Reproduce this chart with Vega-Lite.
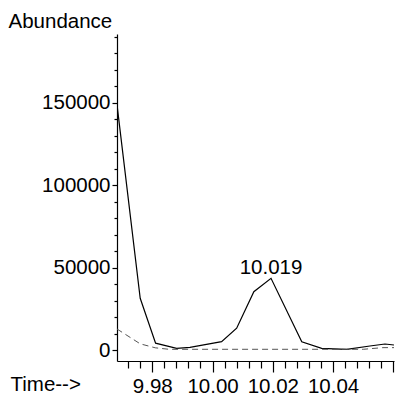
{
  "$schema": "https://vega.github.io/schema/vega-lite/v6.json",
  "autosize": "none",
  "width": 277,
  "height": 327,
  "padding": {"left": 117, "top": 34, "right": 11, "bottom": 36},
  "background": "white",
  "config": {
    "view": {"stroke": null},
    "font": "Liberation Sans",
    "axis": {"grid": false, "domainColor": "black", "tickColor": "black", "labelColor": "black", "titleColor": "black", "labelFont": "Liberation Sans", "titleFont": "Liberation Sans", "labelFontSize": 20.5, "titleFontSize": 20.5, "titleFontWeight": "normal", "domainWidth": 1.2, "tickWidth": 1.2}
  },
  "datasets": {
    "solid": [
      {"time": 9.9683, "abundance": 149000},
      {"time": 9.976, "abundance": 31600},
      {"time": 9.9811, "abundance": 4400},
      {"time": 9.9881, "abundance": 1300},
      {"time": 9.9925, "abundance": 1900},
      {"time": 10.003, "abundance": 5300},
      {"time": 10.008, "abundance": 13500},
      {"time": 10.0137, "abundance": 35600},
      {"time": 10.0194, "abundance": 43700},
      {"time": 10.0296, "abundance": 5300},
      {"time": 10.0362, "abundance": 1300},
      {"time": 10.0445, "abundance": 700},
      {"time": 10.0522, "abundance": 2700},
      {"time": 10.0572, "abundance": 3900},
      {"time": 10.0602, "abundance": 3300}
    ],
    "dashed": [
      {"time": 9.9683, "abundance": 13000},
      {"time": 9.976, "abundance": 4000},
      {"time": 9.981, "abundance": 1600},
      {"time": 9.9855, "abundance": 700},
      {"time": 10.05, "abundance": 700},
      {"time": 10.0565, "abundance": 1700},
      {"time": 10.0602, "abundance": 1700}
    ],
    "peak": [
      {"time": 10.0194, "abundance": 43700, "label": "10.019"}
    ]
  },
  "resolve": {"axis": {"x": "independent", "y": "independent"}, "scale": {"x": "shared", "y": "shared"}},
  "layer": [
    {
      "data": {"name": "solid"},
      "mark": {"type": "line", "color": "black", "strokeWidth": 1.2, "clip": true},
      "encoding": {
        "x": {"field": "time", "type": "quantitative", "scale": {"domain": [9.9683, 10.0602], "nice": false, "zero": false},
          "axis": {"orient": "bottom", "values": [9.98, 10.0, 10.02, 10.04, 10.06], "format": ".2f", "labelExpr": "datum.value > 10.05 ? '' : datum.label", "tickSize": 11, "labelPadding": 20, "labelBaseline": "alphabetic", "labelFlush": false, "labelOverlap": false,
            "title": "Time-->", "titleAlign": "left", "titleBaseline": "alphabetic", "titleX": -107, "titleY": 29, "titleAnchor": null}},
        "y": {"field": "abundance", "type": "quantitative", "scale": {"domain": [-6400, 191800], "nice": false, "zero": false},
          "axis": {"orient": "left", "values": [0, 50000, 100000, 150000], "format": "d", "tickSize": 5, "labelPadding": 2, "labelBaseline": "middle", "labelFlush": false,
            "title": "Abundance", "titleAngle": 0, "titleAlign": "left", "titleBaseline": "alphabetic", "titleX": -109, "titleY": -7}}
      }
    },
    {
      "data": {"name": "dashed"},
      "mark": {"type": "line", "color": "#555555", "strokeWidth": 1, "strokeDash": [6, 4], "clip": true},
      "encoding": {
        "x": {"field": "time", "type": "quantitative",
          "axis": {"orient": "bottom", "domain": false, "labels": false, "title": null, "tickSize": 7,
            "values": [9.972, 9.976, 9.984, 9.988, 9.992, 9.996, 10.004, 10.008, 10.012, 10.016, 10.024, 10.028, 10.032, 10.036, 10.044, 10.048, 10.052, 10.056]}},
        "y": {"field": "abundance", "type": "quantitative",
          "axis": {"orient": "left", "domain": false, "labels": false, "title": null, "tickSize": 3,
            "values": [10000, 20000, 30000, 40000, 60000, 70000, 80000, 90000, 110000, 120000, 130000, 140000, 160000, 170000, 180000, 190000]}}
      }
    },
    {
      "data": {"name": "peak"},
      "mark": {"type": "text", "fontSize": 20.5, "font": "Liberation Sans", "color": "black", "align": "center", "baseline": "alphabetic", "dy": -4},
      "encoding": {
        "x": {"field": "time", "type": "quantitative", "axis": null},
        "y": {"field": "abundance", "type": "quantitative", "axis": null},
        "text": {"field": "label"}
      }
    }
  ]
}
